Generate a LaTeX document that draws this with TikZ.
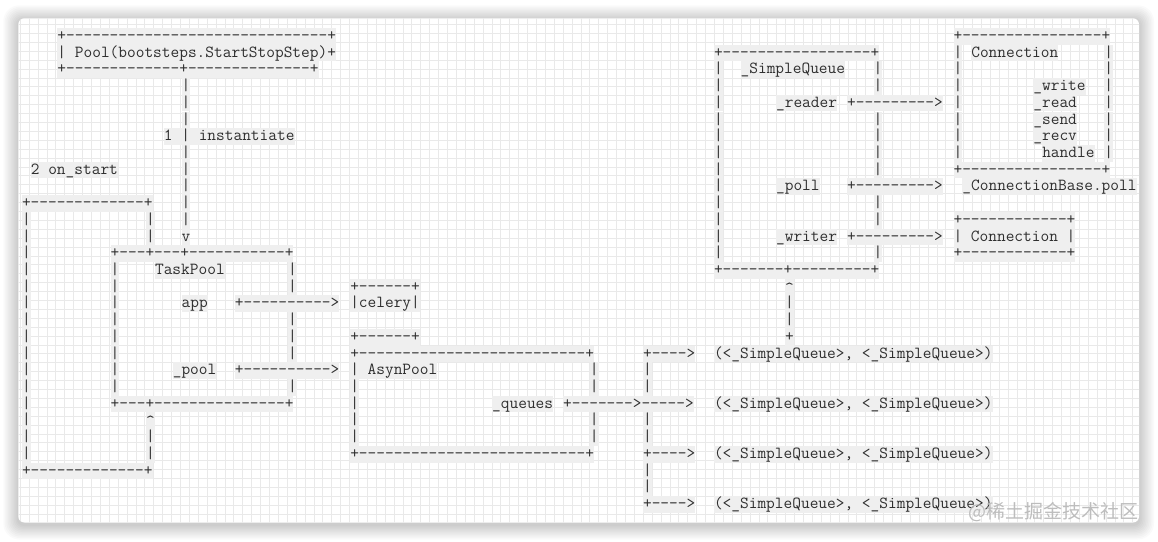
\documentclass[tikz,border=0pt]{standalone}
\usepackage{fontspec}
\newfontfamily\cjkfont{Noto Sans CJK SC}
\definecolor{ink}{HTML}{2E2E2E}
\definecolor{hl}{HTML}{EFEFEF}
\definecolor{gridc}{HTML}{E9E9E9}
\definecolor{wm}{HTML}{BDBDBD}
\newcommand\asc[4]{\node[tx] (#1) at ({22.0+#2*8.872},{-(40.4+#3*16.72)}) {#4};}
\newcommand\caret{\raisebox{-2pt}{\textasciicircum}}
\frenchspacing
\begin{document}
\begin{tikzpicture}[x=1pt,y=1pt,
  tx/.style={anchor=base west, inner sep=0pt, outer sep=0pt, fill=hl, text=ink,
    font=\ttfamily\fontsize{16.9}{17}\selectfont, text height=12.5pt, text depth=4.2pt}]
\useasboundingbox (0,0) rectangle (1158,-541);
\fill[white] (0,0) rectangle (1158,-541);
% shadow
\foreach \i in {1,...,10}{
  \fill[black, opacity=0.02, rounded corners={6+\i}] ({18.3-1.5*\i},{-18.3+1.5*\i-2}) rectangle ({1139+1.5*\i},{-522.5-1.5*\i-2});
}
% card
\fill[white, rounded corners=6] (18.3,-18.3) rectangle (1139,-522.5);
\begin{scope}
  \clip[rounded corners=6] (18.3,-18.3) rectangle (1139,-522.5);
  \foreach \k in {0,...,125} \draw[gridc, line width=0.55] ({20.1+\k*8.9},-18) -- ++(0,-506);
  \foreach \k in {0,...,56} \draw[gridc, line width=0.55] (18,{-(24.4+\k*8.9)}) -- ++(1122,0);
\end{scope}
% row 0
\asc{poolTop}{4}{0}{+------------------------------+}
\asc{connTop}{105}{0}{+----------------+}
% row 1
\asc{poolMid}{4}{1}{| Pool(bootsteps.StartStopStep)+}
\asc{sqTop}{78}{1}{+-----------------+}
\asc{connTitle}{107}{1}{Connection}
% row 2
\asc{poolBot}{4}{2}{+-------------+--------------+}
\asc{sqTitle}{81}{2}{\_SimpleQueue}
% instantiate line
\foreach \r in {3,4,5,7,8,9,10,11} {\asc{inst\r}{18}{\r}{|}}
\asc{instLabel}{16}{6}{1 | instantiate}
\asc{instArrow}{18}{12}{v}
\asc{onStart}{1}{8}{2 on\_start}
% SimpleQueue box sides
\foreach \r in {2,...,13} {\asc{sqL\r}{78}{\r}{|}}
\foreach \r in {2,3,5,6,7,8,10,11,13} {\asc{sqR\r}{96}{\r}{|}}
\asc{reader}{85}{4}{\_reader}
\asc{readerArrow}{93}{4}{+--------->}
\asc{poll}{85}{9}{\_poll}
\asc{pollArrow}{93}{9}{+--------->}
\asc{writer}{85}{12}{\_writer}
\asc{writerArrow}{93}{12}{+--------->}
\asc{sqBot}{78}{14}{+-------+---------+}
\asc{qUp}{86}{15}{\caret}
\asc{qV16}{86}{16}{|}
\asc{qV17}{86}{17}{|}
\asc{qPlus}{86}{18}{+}
% Connection box
\foreach \r in {1,...,7} {\asc{connL\r}{105}{\r}{|}\asc{connR\r}{122}{\r}{|}}
\asc{write}{114}{3}{\_write}
\asc{read}{114}{4}{\_read}
\asc{send}{114}{5}{\_send}
\asc{recv}{114}{6}{\_recv}
\asc{handle}{115}{7}{handle}
\asc{connBot}{105}{8}{+----------------+}
\asc{connBasePoll}{106}{9}{\_ConnectionBase.poll}
\asc{connTwoTop}{105}{11}{+------------+}
\asc{connTwo}{105}{12}{| Connection |}
\asc{connTwoBot}{105}{13}{+------------+}
% loop box on the left
\asc{loopTop}{0}{10}{+-------------+}
\foreach \r in {11,...,25} {\asc{loopL\r}{0}{\r}{|}}
\foreach \r in {11,12,24,25} {\asc{loopR\r}{14}{\r}{|}}
\asc{loopUp}{14}{23}{\caret}
\asc{loopBot}{0}{26}{+-------------+}
% TaskPool box
\asc{tpTop}{10}{13}{+---+---+-----------+}
\foreach \r in {14,...,21} {\asc{tpL\r}{10}{\r}{|}}
\foreach \r in {14,15,17,18,19,21} {\asc{tpR\r}{30}{\r}{|}}
\asc{tpTitle}{15}{14}{TaskPool}
\asc{app}{18}{16}{app}
\asc{appArrow}{24}{16}{+---------->}
\asc{poolAttr}{17}{20}{\_pool}
\asc{poolArrow}{24}{20}{+---------->}
\asc{tpBot}{10}{22}{+---+---------------+}
% celery
\asc{celTop}{37}{15}{+------+}
\asc{celery}{37}{16}{|celery|}
\asc{celBot}{37}{18}{+------+}
% AsynPool box
\asc{apTop}{37}{19}{+--------------------------+}
\asc{apTitle}{37}{20}{| AsynPool}
\foreach \r in {21,...,24} {\asc{apL\r}{37}{\r}{|}}
\foreach \r in {20,21,23,24} {\asc{apR\r}{64}{\r}{|}}
\asc{queues}{53}{22}{\_queues}
\asc{queuesArrow}{61}{22}{+------->----->}
\asc{apBot}{37}{25}{+--------------------------+}
% fan-out
\asc{fanOne}{70}{19}{+---->}
\asc{fanThree}{70}{25}{+---->}
\asc{fanFour}{70}{28}{+---->}
\foreach \r in {20,21,23,24,26,27} {\asc{fanV\r}{70}{\r}{|}}
\asc{tupleOne}{78}{19}{(<\_SimpleQueue>, <\_SimpleQueue>)}
\asc{tupleTwo}{78}{22}{(<\_SimpleQueue>, <\_SimpleQueue>)}
\asc{tupleThree}{78}{25}{(<\_SimpleQueue>, <\_SimpleQueue>)}
\asc{tupleFour}{78}{28}{(<\_SimpleQueue>, <\_SimpleQueue>)}
% watermark
\node[anchor=base east, inner sep=0pt, text=wm, font=\cjkfont\fontsize{19}{19}\selectfont] (wmark) at (1139,-518.5) {@稀土掘金技术社区};
\end{tikzpicture}
\end{document}
